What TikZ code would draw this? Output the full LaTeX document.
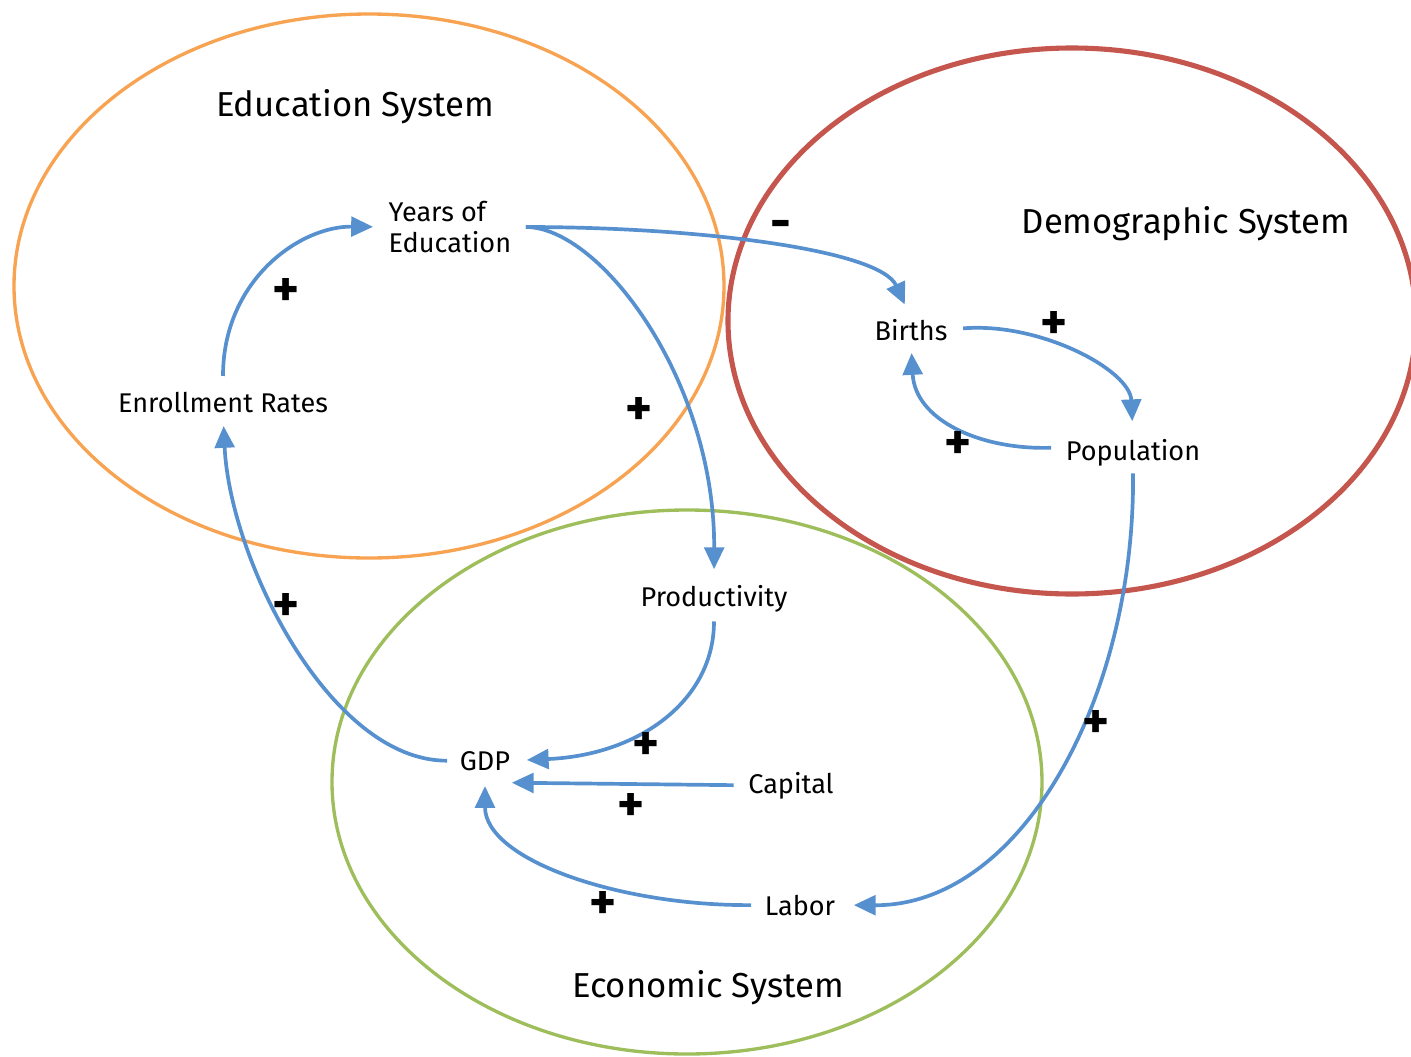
\documentclass[tikz,border=0pt]{standalone}
\usepackage{fontspec}
\setmainfont{Fira Sans}
\usetikzlibrary{arrows.meta}
\definecolor{linkblue}{RGB}{86,144,206}
\definecolor{eduorange}{RGB}{247,163,82}
\definecolor{demored}{RGB}{196,86,78}
\definecolor{ecogreen}{RGB}{158,190,92}
\tikzset{
  sysring/.style={line width=#1},
  var/.style={inner sep=0pt, font=\fontsize{7.7}{8.6}\selectfont},
  systitle/.style={inner sep=0pt, anchor=base, font=\fontsize{9.85}{11}\selectfont},
  polarity/.style={inner sep=0pt, font=\fontsize{14.5}{16}\selectfont\bfseries},
  link/.style={draw=linkblue, line width=1.05pt, -{Triangle[length=6.2pt,width=5.6pt]}},
}
\begin{document}
\begin{tikzpicture}[x=0.01cm, y=-0.01cm]
\useasboundingbox (0,0) rectangle (1411,1057);

% system boundaries
\draw[eduorange, sysring=0.95pt] (369,286) ellipse [x radius=355, y radius=272];
\draw[demored, sysring=1.45pt] (1072,321) ellipse [x radius=344, y radius=273];
\draw[ecogreen, sysring=0.95pt] (687,782) ellipse [x radius=355, y radius=272];

% system titles
\node[systitle] (edut) at (355,116) {Education System};
\node[systitle] (demt) at (1186,233) {Demographic System};
\node[systitle] (ecot) at (708,997) {Economic System};

% variables
\node[var, anchor=west, align=left] (yrs) at (388,227) {Years of\\Education};
\node[var, anchor=base] (enr) at (223,412) {Enrollment Rates};
\node[var, anchor=base] (bir) at (911,340) {Births};
\node[var, anchor=base] (pop) at (1133,460) {Population};
\node[var, anchor=base] (prod) at (714,606) {Productivity};
\node[var, anchor=base] (gdp) at (485,770) {GDP};
\node[var, anchor=base] (cap) at (791,793) {Capital};
\node[var, anchor=base] (lab) at (800,915) {Labor};

% causal links
\draw[link, shorten <=1.5mm, shorten >=1.5mm] (enr.north) .. controls (223,280) and (300,226) .. (yrs.west);
\draw[link, shorten <=1.4mm, shorten >=1.5mm] (yrs.east) .. controls (700,227) and (880,250) .. (bir.north);
\draw[link, shorten <=1.4mm, shorten >=1.5mm] (yrs.east) .. controls (600,227) and (715,380) .. (prod.north);
\draw[link, shorten <=1.5mm, shorten >=1.7mm] (bir.east) .. controls (1040,322) and (1130,370) .. (pop.north);
\draw[link, shorten <=1.4mm, shorten >=1.2mm] ([yshift=0.05cm]pop.west) .. controls (980,450) and (915,420) .. (bir.south);
\draw[link, shorten <=0.7mm, shorten >=1.8mm] (pop.south) .. controls (1135,700) and (1020,906) .. (lab.east);
\draw[link, shorten <=0.9mm, shorten >=1.6mm] (prod.south) .. controls (714,700) and (640,755) .. (gdp.east);
\draw[link, shorten <=1.4mm, shorten >=0.1mm] (cap.west) -- ([yshift=-2.2mm]gdp.east);
\draw[link, shorten <=1.3mm, shorten >=1.5mm] (lab.west) .. controls (620,906) and (485,860) .. (gdp.south);
\draw[link, shorten <=1.2mm, shorten >=1.3mm] (gdp.west) .. controls (330,761) and (230,560) .. (enr.south);

% link polarities
\node[polarity] (p1) at (286,292) {+};
\node[polarity] (p2) at (639,411) {+};
\node[polarity] (p3) at (781,230) {-};
\node[polarity] (p4) at (1054,325) {+};
\node[polarity] (p5) at (958,445) {+};
\node[polarity] (p6) at (286,607) {+};
\node[polarity] (p7) at (1096,724) {+};
\node[polarity] (p8) at (646,746) {+};
\node[polarity] (p9) at (631,807) {+};
\node[polarity] (p10) at (603,905) {+};
\end{tikzpicture}
\end{document}
